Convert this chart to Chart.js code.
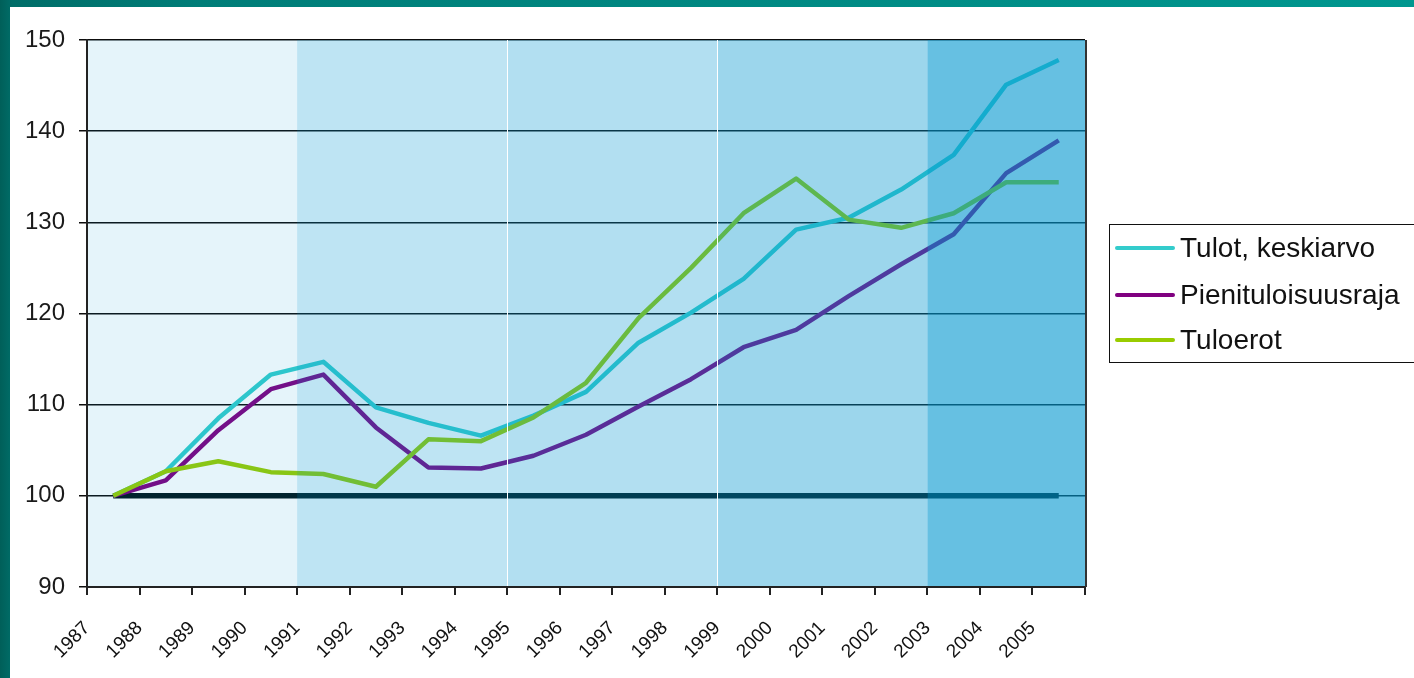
<!DOCTYPE html>
<html>
<head>
<meta charset="utf-8">
<title>Tulot ja tuloerot 1987-2005</title>
<script src="https://cdn.jsdelivr.net/npm/chart.js@4.4.1/dist/chart.umd.min.js"></script>
<style>
  body {
    margin: 0;
    width: 1414px;
    height: 678px;
    overflow: hidden;
    background: linear-gradient(90deg, #005f59 0px, #006d68 12px, #007d78 200px, #00978f 1414px);
    font-family: "Liberation Sans", Arial, sans-serif;
  }
  #frame {
    position: absolute;
    left: 10px;
    top: 7px;
    width: 1404px;
    height: 671px;
    background: #fff;
  }
  #chart { position: absolute; left: 0; top: 0; }
  #legend {
    position: absolute;
    left: 1099px;
    top: 217px;
    width: 330px;
    height: 137px;
    border: 1px solid #111;
    box-sizing: content-box;
  }
  .item {
    position: absolute;
    left: 5px;
    height: 32px;
    display: flex;
    align-items: center;
    font-size: 28px;
    color: #111;
    white-space: nowrap;
  }
  .swatch {
    width: 60px;
    height: 4px;
    border-radius: 2px;
    margin-right: 5px;
  }
</style>
</head>
<body>
<div id="frame">
  <canvas id="chart" width="1404" height="671"></canvas>
  <div id="legend"></div>
</div>
<script>
// categories
const years = ['1987', '1988', '1989', '1990', '1991', '1992', '1993', '1994', '1995', '1996',
               '1997', '1998', '1999', '2000', '2001', '2002', '2003', '2004', '2005'];

// index 1987 = 100
const tulotKeskiarvo = [100, 102.7, 108.5, 113.3, 114.7, 109.7, 108.0, 106.6, 108.8, 111.4,
                        116.8, 120.1, 123.8, 129.2, 130.5, 133.6, 137.4, 145.1, 147.8];
const pienituloisuusraja = [100, 101.7, 107.2, 111.7, 113.3, 107.5, 103.1, 103.0, 104.4, 106.7,
                            109.8, 112.8, 116.3, 118.2, 121.9, 125.4, 128.7, 135.4, 139.0];
const tuloerot = [100, 102.7, 103.8, 102.6, 102.4, 101.0, 106.2, 106.0, 108.6, 112.4,
                  119.5, 125.0, 131.0, 134.8, 130.3, 129.4, 131.0, 134.4, 134.4];
const perustaso = [100, 100, 100, 100, 100, 100, 100, 100, 100, 100,
                   100, 100, 100, 100, 100, 100, 100, 100, 100];

const seriesNames = ['Tulot, keskiarvo', 'Pienituloisuusraja', 'Tuloerot'];
const seriesColors = ['#33cccc', '#800080', '#99cc00'];

// shaded periods (in category units) and how strong the blue tint is
const shadeFrom = [0, 4, 8, 12, 16];
const shadeTo = [4, 8, 12, 16, 19];
const shadeAlpha = [0.10, 0.255, 0.30, 0.39, 0.60];
const whiteSeparators = [8, 12];

Chart.defaults.font.family = '"Liberation Sans", Arial, sans-serif';

// points sit in the middle of each year slot
function toPoints(values) {
  return values.map((v, i) => ({ x: i + 0.5, y: v }));
}

const shading = {
  id: 'shading',
  afterDatasetsDraw(chart) {
    const { ctx, chartArea } = chart;
    const xs = chart.scales.x;
    const h = chartArea.bottom - chartArea.top - 1;
    ctx.save();
    for (let i = 0; i < shadeFrom.length; i++) {
      const x0 = Math.max(xs.getPixelForValue(shadeFrom[i]), chartArea.left + 1);
      const x1 = xs.getPixelForValue(shadeTo[i]);
      ctx.fillStyle = 'rgba(0,150,207,' + shadeAlpha[i] + ')';
      ctx.fillRect(x0, chartArea.top, x1 - x0, h);
    }
    ctx.fillStyle = '#ffffff';
    whiteSeparators.forEach(v => {
      const x = Math.round(xs.getPixelForValue(v));
      ctx.fillRect(x, chartArea.top, 1, h);
    });
    // right frame of the plot area
    ctx.strokeStyle = '#333';
    ctx.lineWidth = 2;
    ctx.beginPath();
    ctx.moveTo(chartArea.right + 1, chartArea.top);
    ctx.lineTo(chartArea.right + 1, chartArea.bottom);
    ctx.stroke();
    ctx.restore();
  }
};

const lineDefaults = { pointRadius: 0, borderWidth: 4.5, tension: 0, borderJoinStyle: 'round', fill: false };

new Chart(document.getElementById('chart').getContext('2d'), {
  type: 'line',
  data: {
    datasets: [
      Object.assign({ label: seriesNames[2], data: toPoints(tuloerot), borderColor: seriesColors[2], backgroundColor: seriesColors[2], order: 0 }, lineDefaults),
      Object.assign({ label: seriesNames[1], data: toPoints(pienituloisuusraja), borderColor: seriesColors[1], backgroundColor: seriesColors[1], order: 1 }, lineDefaults),
      Object.assign({ label: seriesNames[0], data: toPoints(tulotKeskiarvo), borderColor: seriesColors[0], backgroundColor: seriesColors[0], order: 2 }, lineDefaults),
      Object.assign({ label: '', data: toPoints(perustaso), borderColor: '#02171c', backgroundColor: '#02171c', order: 3 }, lineDefaults, { borderWidth: 5.5 })
    ]
  },
  options: {
    responsive: false,
    animation: false,
    devicePixelRatio: 1,
    layout: { padding: { top: 33, right: 329, bottom: 0, left: 0 } },
    plugins: {
      legend: { display: false },
      tooltip: { enabled: false }
    },
    scales: {
      x: {
        type: 'linear',
        min: 0,
        max: 19,
        ticks: {
          stepSize: 1,
          autoSkip: false,
          minRotation: 45,
          maxRotation: 45,
          padding: 22,
          color: '#111',
          font: { size: 19 },
          callback: v => years[v] !== undefined ? years[v] : ''
        },
        grid: { drawOnChartArea: false, drawTicks: true, tickLength: 8, color: '#222', lineWidth: 2 },
        border: { display: true, color: '#222', width: 2 },
        afterFit(s) { s.height = 91; s.paddingLeft = 0; s.paddingRight = 0; }
      },
      y: {
        min: 90,
        max: 150,
        ticks: { stepSize: 10, padding: 14, color: '#1a1a1a', font: { size: 24 } },
        grid: { color: '#0d0d0d', lineWidth: 1.5, tickLength: 8 },
        border: { display: true, color: '#222', width: 2 },
        afterFit(s) { s.width = 77; s.paddingTop = 0; s.paddingBottom = 0; }
      }
    }
  },
  plugins: [shading]
});

// legend box
const legend = document.getElementById('legend');
const rowTops = [7, 54, 99];
seriesNames.forEach((name, i) => {
  const row = document.createElement('div');
  row.className = 'item';
  row.style.top = rowTops[i] + 'px';
  const sw = document.createElement('span');
  sw.className = 'swatch';
  sw.style.background = seriesColors[i];
  const txt = document.createElement('span');
  txt.textContent = name;
  row.appendChild(sw);
  row.appendChild(txt);
  legend.appendChild(row);
});
</script>
</body>
</html>
